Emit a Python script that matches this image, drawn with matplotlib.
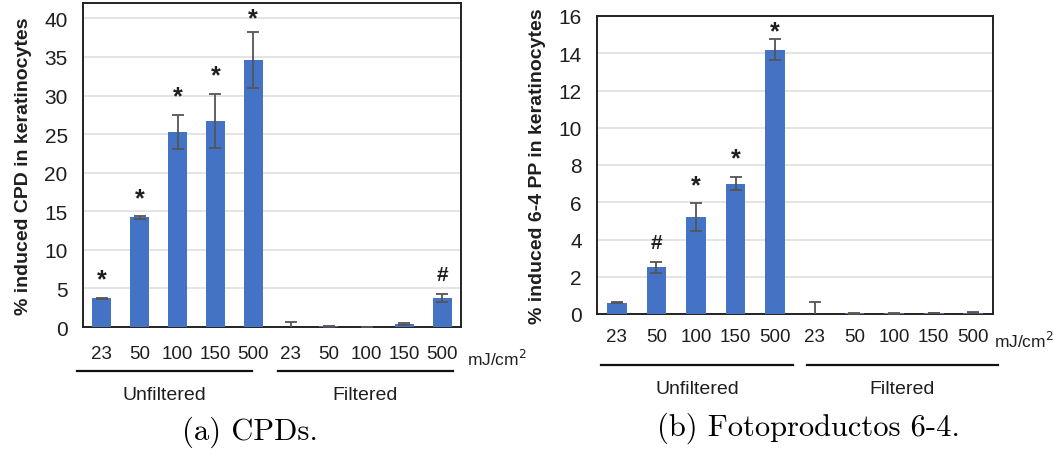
import numpy as np
import matplotlib
matplotlib.use('Agg')
import matplotlib.pyplot as plt
from matplotlib.transforms import blended_transform_factory

plt.rcParams['font.family'] = ['Liberation Sans', 'DejaVu Sans']

# data
doses = ['23', '50', '100', '150', '500']
groups = ['Unfiltered', 'Filtered']

cpd_mean = [3.7, 14.2, 25.3, 26.7, 34.6, 0.0, 0.1, 0.0, 0.4, 3.8]
cpd_err = [0.1, 0.15, 2.2, 3.5, 3.6, 0.7, 0.05, 0.0, 0.1, 0.5]
cpd_marks = ['*', '*', '*', '*', '*', '', '', '', '', '#']

pp_mean = [0.6, 2.5, 5.2, 7.0, 14.2, 0.0, 0.05, 0.03, 0.05, 0.07]
pp_err = [0.03, 0.3, 0.75, 0.35, 0.55, 0.65, 0.03, 0.02, 0.02, 0.03]
pp_marks = ['', '#', '*', '*', '*', '', '', '', '', '']

bar_color = '#4472C4'
txt_color = '#1e1e1e'

W, H = 1054, 456
fig = plt.figure(figsize=(W / 100, H / 100), dpi=100)


def px_axes(x0, y0, x1, y1):
    # pixel box (top-left origin) -> figure fraction
    return fig.add_axes([x0 / W, 1 - y1 / H, (x1 - x0) / W, (y1 - y0) / H])


def draw_panel(ax, mean, err, marks, ylim, step, ylabel, xpad, unit_dx,
               line_y, group_y, spans, caption, cap_xy):
    x = np.arange(len(mean))
    ax.bar(x, mean, width=0.5, color=bar_color, zorder=3)
    ax.errorbar(x, mean, yerr=err, fmt='none', ecolor='#555555', elinewidth=1.3,
                capsize=4, capthick=1.3, zorder=4)
    ax.set_xlim(-0.5, len(mean) - 0.5)
    ax.set_ylim(*ylim)
    # points per data unit, so a mark near the top stays inside the frame
    pt_per_unit = ax.get_position().height * H * 0.72 / (ylim[1] - ylim[0])
    for xi, m, e, s in zip(x, mean, err, marks):
        room = (ylim[1] - (m + e)) * pt_per_unit - 9
        if s == '*':
            ax.annotate(s, (xi, m + e), xytext=(0, min(15, room)),
                        textcoords='offset points', ha='center',
                        va='center_baseline', fontsize=18, fontweight='bold',
                        color=txt_color)
        elif s:
            ax.annotate(s, (xi, m + e), xytext=(0, 7), textcoords='offset points',
                        ha='center', va='bottom', fontsize=15, fontweight='bold',
                        color=txt_color)
    ax.set_yticks(np.arange(0, ylim[1] + 0.01, step))
    ax.yaxis.grid(True, color='#dcdcdc', linewidth=1.1, zorder=0)
    ax.set_axisbelow(True)
    ax.set_xticks(x)
    ax.set_xticklabels(doses * 2)
    ax.tick_params(axis='both', length=0, colors=txt_color)
    ax.tick_params(axis='y', pad=11, labelsize=15)
    ax.tick_params(axis='x', pad=xpad, labelsize=13.5)
    for sp in ax.spines.values():
        sp.set_color('#222222')
        sp.set_linewidth(1.4)
    ax.set_ylabel(ylabel, fontsize=14, fontweight='bold', color=txt_color,
                  labelpad=9)
    ax.annotate('mJ/cm$^2$', (1, 0), xycoords='axes fraction',
                xytext=(unit_dx, -xpad - 14), textcoords='offset points',
                ha='left', va='baseline', fontsize=12.5, color=txt_color)
    tr = blended_transform_factory(ax.transData, fig.transFigure)
    for g, (a, b) in zip(groups, spans):
        ax.plot([a, b], [1 - line_y / H] * 2, color='#111111', lw=1.6,
                transform=tr, clip_on=False)
        ax.text((a + b) / 2, 1 - group_y / H, g, transform=tr, ha='center',
                va='center', fontsize=14, color=txt_color)
    fig.text(cap_xy[0] / W, 1 - cap_xy[1] / H, caption, family='cmr10',
             fontsize=22, ha='center', va='center')


ax1 = px_axes(83, 4, 461, 328)
draw_panel(ax1, cpd_mean, cpd_err, cpd_marks, (0, 42), 5,
           '% induced CPD in keratinocytes', 13, 4, 372, 396,
           [(-0.66, 3.97), (4.66, 9.29)], '(a) CPDs.', (250, 432))

ax2 = px_axes(597, 17, 993, 315)
draw_panel(ax2, pp_mean, pp_err, pp_marks, (0, 16), 2,
           '% induced 6-4 PP in keratinocytes', 10, 1, 366, 389,
           [(-0.4, 4.46), (4.81, 9.62)], '(b) Fotoproductos 6-4.', (808, 428))

fig.savefig('out.png', dpi=100)
